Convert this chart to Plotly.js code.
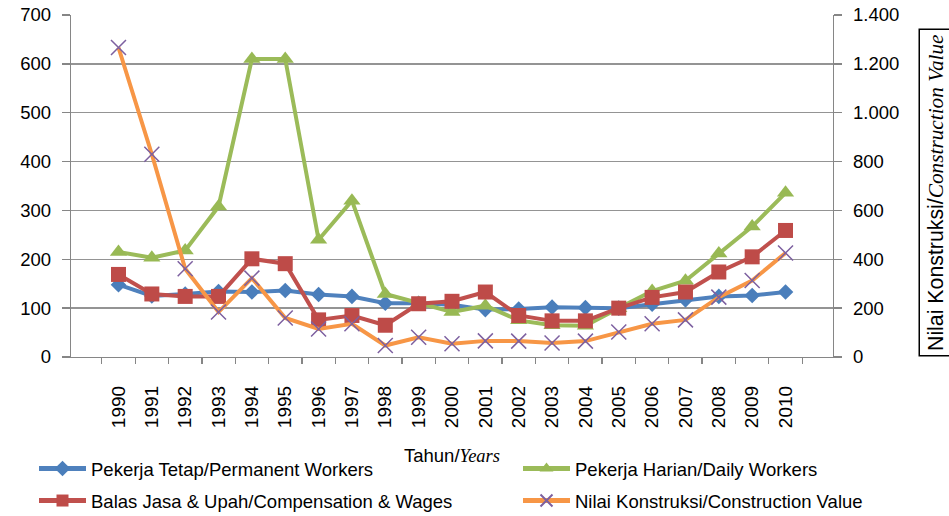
<!DOCTYPE html>
<html>
<head>
<meta charset="utf-8">
<script src="https://cdn.plot.ly/plotly-3.0.1.min.js"></script>
<style>html,body{margin:0;padding:0;background:#fff;}#chart{width:949px;height:516px;}</style>
</head>
<body>
<div id="chart"></div>
<script>
var years = ['1990','1991','1992','1993','1994','1995','1996','1997','1998','1999','2000','2001','2002','2003','2004','2005','2006','2007','2008','2009','2010'];
var permanentWorkers = [148,125,129,134,133,136,128,124,110,110,107,97,98,102,101,100,108,117,124,126,133];
var dailyWorkers = [215,203,218,308,610,610,240,320,129,110,92,105,75,65,64,100,135,156,212,267,336];
var compensationWages = [169,129,124,124,201,191,76,85,65,109,114,133,85,74,74,100,122,133,174,205,259];
var constructionValue = [1267,830,361,184,323,160,115,136,47,81,54,66,65,57,65,102,136,152,245,313,426];

var seriesNames = ['Pekerja Tetap/Permanent Workers','Pekerja Harian/Daily Workers','Balas Jasa &amp; Upah/Compensation &amp; Wages','Nilai Konstruksi/Construction Value'];

var PL = 71, PR = 833, PT = 15, PB = 357, W = 949, H = 516;
function py(y){ return (PB - y) / (PB - PT); }
function px(x){ return (x - PL) / (PR - PL); }

var traces = [
  {x: years, y: permanentWorkers, name: seriesNames[0], type: 'scatter', mode: 'lines+markers',
   line: {color: '#4F81BD', width: 4}, marker: {symbol: 'diamond', size: 12, color: '#4A7EBB'}, legend: 'legend', legendwidth: 422},
  {x: years, y: dailyWorkers, name: seriesNames[1], type: 'scatter', mode: 'lines+markers',
   line: {color: '#9BBB59', width: 4}, marker: {symbol: 'triangle-up', size: 15, color: '#98B954'}, legend: 'legend'},
  {x: years, y: compensationWages, name: seriesNames[2], type: 'scatter', mode: 'lines+markers',
   line: {color: '#C0504D', width: 4}, marker: {symbol: 'square', size: 15, color: '#BE4B48'}, legend: 'legend2', legendwidth: 422},
  {x: years, y: constructionValue, name: seriesNames[3], type: 'scatter', mode: 'lines+markers', yaxis: 'y2',
   line: {color: '#F79646', width: 4}, marker: {symbol: 'x-thin', size: 15, color: '#7D60A0', line: {color: '#7D60A0', width: 1.5}}, legend: 'legend2'}
];

var serif = "'Liberation Serif','Times New Roman',serif";
var legendBase = {orientation: 'h', x: px(34), xanchor: 'left', yanchor: 'middle', itemwidth: 47,
  font: {size: 18.5}, bgcolor: 'rgba(0,0,0,0)', traceorder: 'normal', itemsizing: 'constant'};
var legend1 = Object.assign({}, legendBase, {y: py(469)});
var legend2 = Object.assign({}, legendBase, {y: py(501)});

var layout = {
  width: W, height: H,
  margin: {l: PL, r: W - PR, t: PT, b: H - PB, autoexpand: false},
  paper_bgcolor: '#fff', plot_bgcolor: '#fff',
  font: {family: "'Liberation Sans', Arial, sans-serif", size: 18, color: '#000'},
  separators: ',.',
  showlegend: true,
  xaxis: {
    type: 'category', tickangle: -90, tickson: 'boundaries',
    ticks: 'outside', ticklen: 6, tickcolor: '#868686', tickwidth: 1.3,
    showline: true, linecolor: '#868686', linewidth: 1.3, showgrid: false,
    tickfont: {size: 19}, ticklabelstandoff: 20, fixedrange: true, automargin: false
  },
  yaxis: {
    range: [0, 700], dtick: 100, tick0: 0,
    ticks: 'outside', ticklen: 8, tickcolor: '#868686', tickwidth: 1.3,
    showline: true, linecolor: '#868686', linewidth: 1.3,
    showgrid: true, gridcolor: '#949494', gridwidth: 1.4, zeroline: false,
    tickfont: {size: 18.5}, ticklabelstandoff: 7, automargin: false
  },
  yaxis2: {
    overlaying: 'y', side: 'right', range: [0, 1400], dtick: 200, tick0: 0,
    ticks: 'outside', ticklen: 8, tickcolor: '#868686', tickwidth: 1.3,
    showline: true, linecolor: '#868686', linewidth: 1.3, showgrid: false, zeroline: false,
    separatethousands: true, tickfont: {size: 18.5}, ticklabelstandoff: 7, automargin: false
  },
  legend: legend1,
  legend2: legend2,
  annotations: [
    {text: 'Tahun/<i><span style="font-family:' + serif + '">Years</span></i>', xref: 'paper', yref: 'paper',
     x: 0.5, y: py(455), xanchor: 'center', yanchor: 'middle', showarrow: false, font: {size: 18.5}},
    {text: 'Nilai Konstruksi/<i><span style="font-family:' + serif + '">Construction Value</span></i>', xref: 'paper', yref: 'paper',
     x: px(936), y: py(192.5), xanchor: 'center', yanchor: 'middle', textangle: -90, showarrow: false,
     font: {size: 21.3}, bordercolor: '#000', borderwidth: 1.5, borderpad: 4}
  ]
};

Plotly.newPlot('chart', traces, layout, {displayModeBar: false, staticPlot: true});
</script>
</body>
</html>
